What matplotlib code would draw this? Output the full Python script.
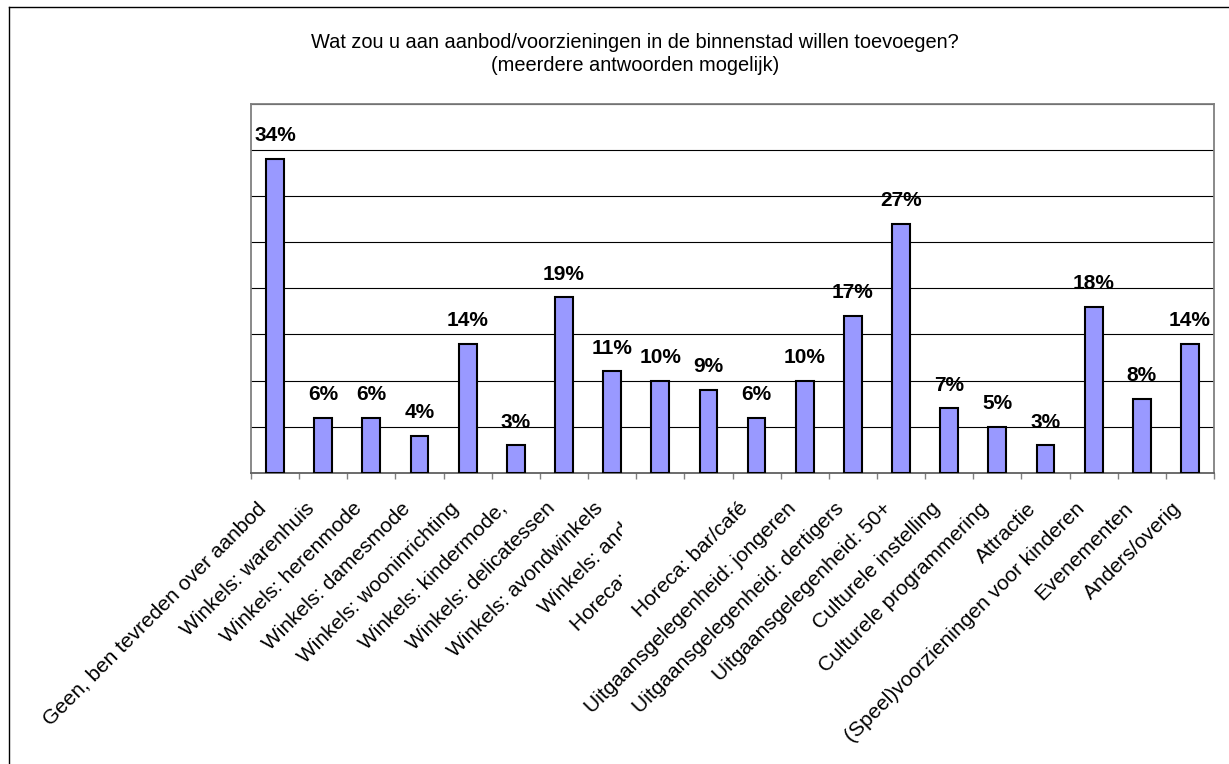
import matplotlib
matplotlib.use("Agg")
import matplotlib.pyplot as plt
import numpy as np
from matplotlib.lines import Line2D
from matplotlib.transforms import ScaledTranslation, Bbox, TransformedBbox

plt.rcParams['font.family'] = ['Liberation Sans', 'DejaVu Sans']

title_line1 = "Wat zou u aan aanbod/voorzieningen in de binnenstad willen toevoegen?"
title_line2 = "(meerdere antwoorden mogelijk)"

categories = [
    "Geen, ben tevreden over aanbod",
    "Winkels: warenhuis",
    "Winkels: herenmode",
    "Winkels: damesmode",
    "Winkels: wooninrichting",
    "Winkels: kindermode,",
    "Winkels: delicatessen",
    "Winkels: avondwinkels",
    "Winkels: andere",
    "Horeca: restaurant",
    "Horeca: bar/café",
    "Uitgaansgelegenheid: jongeren",
    "Uitgaansgelegenheid: dertigers",
    "Uitgaansgelegenheid: 50+",
    "Culturele instelling",
    "Culturele programmering",
    "Attractie",
    "(Speel)voorzieningen voor kinderen",
    "Evenementen",
    "Anders/overig",
]
values = [34, 6, 6, 4, 14, 3, 19, 11, 10, 9, 6, 10, 17, 27, 7, 5, 3, 18, 8, 14]
# labels partially hidden in the original chart
clipped_labels = [8, 9]

W, H = 1229, 764
fig = plt.figure(figsize=(W / 100, H / 100), dpi=100)
ax = fig.add_axes([251 / W, 1 - 473 / H, (1214 - 251) / W, (473 - 103.5) / H])

x = np.arange(len(values))
bars = ax.bar(x, values, width=0.37, color='#9999FF', edgecolor='black',
              linewidth=1.5, zorder=3)

ax.set_xlim(-0.5, len(values) - 0.5)
ax.set_ylim(0, 40)
ax.set_yticks(np.arange(0, 41, 5))
ax.set_yticklabels([])
ax.tick_params(axis='y', length=0)
ax.yaxis.grid(True, color='black', linewidth=0.8)
ax.set_axisbelow(True)

ax.set_xticks([])
ax.set_xticks(np.arange(-0.5, len(values), 1), minor=True)
ax.tick_params(axis='x', which='minor', direction='out', length=4,
               color='#808080', width=1)
for s in ax.spines.values():
    s.set_color('#808080')
    s.set_linewidth(1.3)
ax.spines['bottom'].set_color('#606060')

# value labels
for xi, v in zip(x, values):
    ax.annotate(f"{v}%", (xi, v), xytext=(0, 12.8), textcoords='offset points',
                ha='center', va='baseline', fontsize=15, fontweight='bold',
                zorder=4)

# category labels
offset = ScaledTranslation(-12 / 100, -32.5 / 100, fig.dpi_scale_trans)
clipbox = TransformedBbox(Bbox([[0, 0], [622 / W, 1]]), fig.transFigure)
for i, lab in enumerate(categories):
    t = ax.text(i, 0, lab, transform=ax.get_xaxis_transform() + offset,
                rotation=45, rotation_mode='anchor', ha='right', va='center',
                fontsize=15, clip_on=False)
    if i in clipped_labels:
        t.set_clip_on(True)
        t.set_clip_box(clipbox)

# title
fig.text(635 / W, 1 - 47.5 / H, title_line1, ha='center', va='baseline',
         fontsize=14.4)
fig.text(635 / W, 1 - 71 / H, title_line2, ha='center', va='baseline',
         fontsize=14.4)

# outer chart border (left and top visible)
fig.add_artist(Line2D([9 / W, 9 / W], [0, 1 - 7 / H], color='black',
                      linewidth=1, transform=fig.transFigure))
fig.add_artist(Line2D([9 / W, 1], [1 - 7 / H, 1 - 7 / H], color='black',
                      linewidth=1, transform=fig.transFigure))

fig.savefig("out.png", dpi=100)
